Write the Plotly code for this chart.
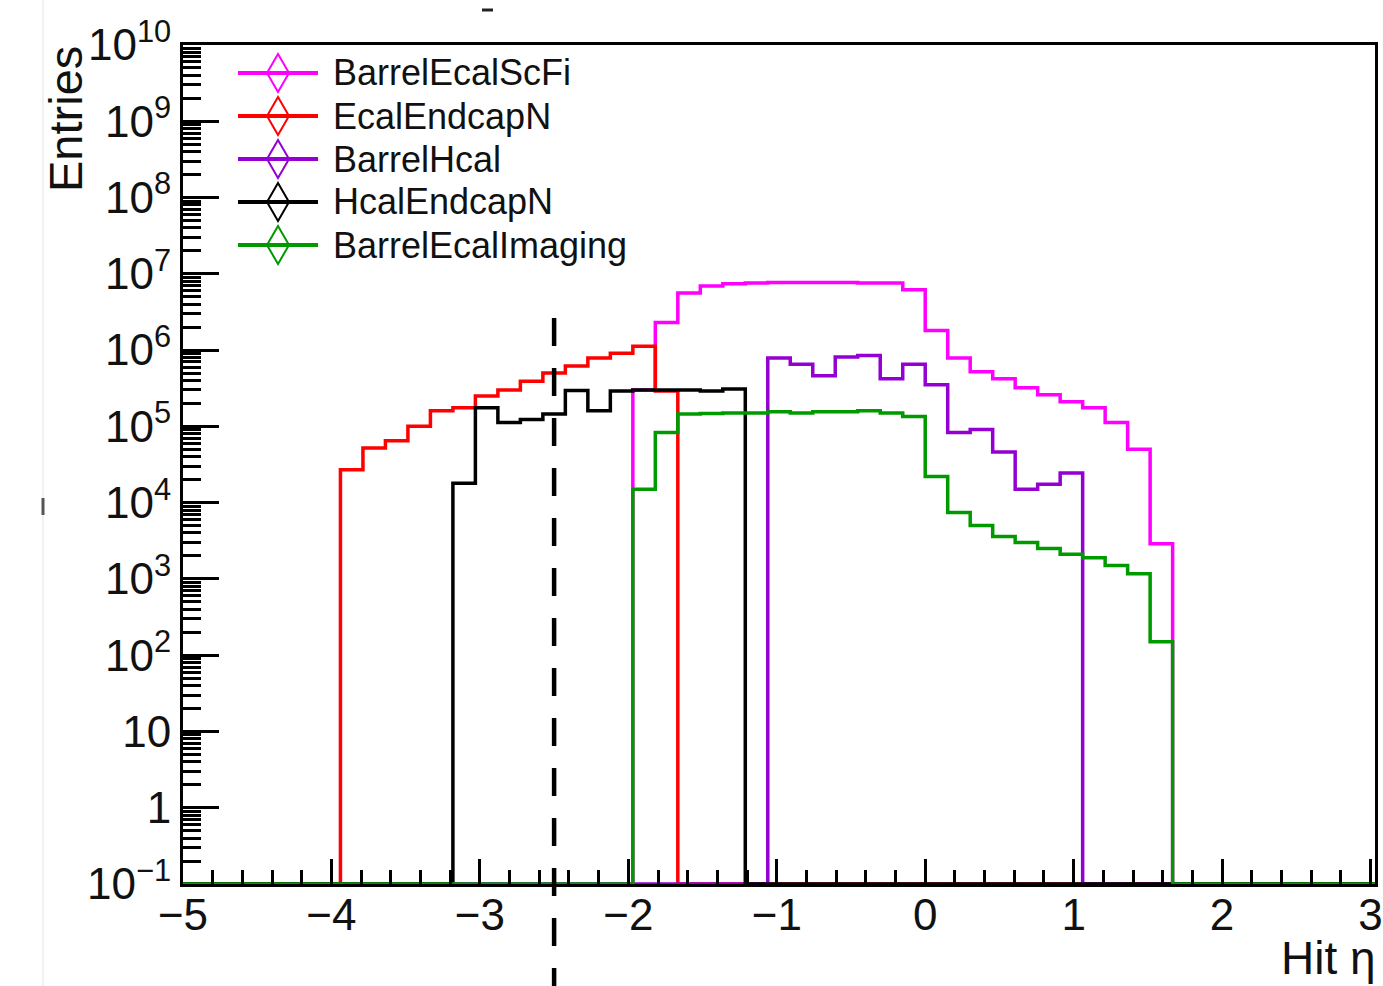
import numpy as np
import plotly.graph_objects as go

# ---------------- data ----------------
HIST_LO, HIST_HI, N_BINS = -5.0, 5.0, 66      # histogram binning in eta
X_MIN, X_MAX = -5.0, 3.03                     # displayed eta range (frame slightly past 3)
Y_LOG_MIN, Y_LOG_MAX = -1, 10                 # displayed decades
Y_FLOOR = 0.1                                 # empty bins drawn at frame bottom
ETA_CUT = -2.5                                # dashed reference line
ETA_CUT_TOP = 10 ** 6.42

series_names = ["BarrelEcalScFi", "EcalEndcapN", "BarrelHcal", "HcalEndcapN", "BarrelEcalImaging"]
series_colors = ["#ff00ff", "#ff0000", "#9400d3", "#000000", "#009a00"]

scfi_first_bin = 20
scfi_counts = [3.0e5, 2.3e6, 5.6e6, 6.9e6, 7.4e6, 7.6e6, 7.7e6, 7.7e6, 7.7e6, 7.7e6,
               7.6e6, 7.6e6, 6.2e6, 1.8e6, 7.9e5, 5.2e5, 4.2e5, 3.2e5, 2.6e5, 2.1e5,
               1.76e5, 1.12e5, 5.0e4, 2.9e3]

ecaln_first_bin = 7
ecaln_counts = [2.7e4, 5.2e4, 6.5e4, 1.0e5, 1.6e5, 1.76e5, 2.5e5, 3.0e5, 3.9e5, 5.0e5,
                6.2e5, 7.9e5, 9.1e5, 1.12e6, 2.9e5]

hcalb_first_bin = 26
hcalb_counts = [7.9e5, 6.5e5, 4.6e5, 8.1e5, 8.5e5, 4.2e5, 6.5e5, 3.5e5, 8.3e4, 9.1e4,
                4.6e4, 1.5e4, 1.74e4, 2.45e4]

hcaln_first_bin = 12
hcaln_counts = [1.8e4, 1.76e5, 1.12e5, 1.23e5, 1.45e5, 2.95e5, 1.6e5, 2.9e5, 3.0e5, 3.0e5,
                3.0e5, 2.9e5, 3.1e5]

imag_first_bin = 20
imag_counts = [1.5e4, 8.3e4, 1.45e5, 1.48e5, 1.5e5, 1.5e5, 1.55e5, 1.5e5, 1.55e5, 1.55e5,
               1.6e5, 1.5e5, 1.35e5, 2.2e4, 7.4e3, 5.0e3, 3.6e3, 3.0e3, 2.5e3, 2.1e3,
               1.9e3, 1.5e3, 1.17e3, 1.5e2]

series_first = [scfi_first_bin, ecaln_first_bin, hcalb_first_bin, hcaln_first_bin, imag_first_bin]
series_counts = [scfi_counts, ecaln_counts, hcalb_counts, hcaln_counts, imag_counts]

x_tick_vals = [-5, -4, -3, -2, -1, 0, 1, 2, 3]
x_tick_text = ["\u22125", "\u22124", "\u22123", "\u22122", "\u22121", "0", "1", "2", "3"]
y_tick_vals = [10.0 ** k for k in range(Y_LOG_MIN, Y_LOG_MAX + 1)]
y_tick_text = ["10<sup>\u22121</sup>", "1", "10"] + ["10<sup>%d</sup>" % k for k in range(2, 11)]

# ---------------- geometry (layout only) ----------------
W, H = 1383, 986
ML, MR, MT, MB = 183, 8, 45, 102
PW, PH = W - ML - MR, H - MT - MB


def px_x(p):
    return (p - ML) / PW


def px_y(p):
    return (H - MB - p) / PH


FONT = "Liberation Sans, Arial, Helvetica, sans-serif"

fig = go.Figure()

edges = np.linspace(HIST_LO, HIST_HI, N_BINS + 1)
for name, color, first, counts in zip(series_names, series_colors, series_first, series_counts):
    full = np.zeros(N_BINS)
    full[first:first + len(counts)] = counts
    yv = np.where(full > 0, full, Y_FLOOR)
    fig.add_trace(go.Scatter(
        x=edges, y=np.append(yv, yv[-1]), mode="lines", line_shape="hv",
        line=dict(color=color, width=3.5), name=name, showlegend=False,
        hoverinfo="skip"))

shapes = []
annotations = []

# dashed eta cut line (extends below the frame, as in the original)
cut_px = (ETA_CUT - X_MIN) / (X_MAX - X_MIN)
cut_top = (np.log10(ETA_CUT_TOP) - Y_LOG_MIN) / (Y_LOG_MAX - Y_LOG_MIN)
shapes.append(dict(type="line", xref="paper", yref="paper", x0=cut_px, x1=cut_px,
                   y0=cut_top, y1=px_y(H + 10),
                   line=dict(color="black", width=4.5, dash="28px,22px"), layer="above"))

# custom legend
row_y = [73, 116, 159, 202, 245]
for name, color, ry in zip(series_names, series_colors, row_y):
    shapes.append(dict(type="line", xref="paper", yref="paper",
                       x0=px_x(238), x1=px_x(318), y0=px_y(ry), y1=px_y(ry),
                       line=dict(color=color, width=4)))
    shapes.append(dict(type="path", xref="paper", yref="paper",
                       xsizemode="pixel", ysizemode="pixel",
                       xanchor=px_x(278), yanchor=px_y(ry),
                       path="M0,19L11,0L0,-19L-11,0Z",
                       line=dict(color=color, width=2)))
    annotations.append(dict(text=name, xref="paper", yref="paper", x=px_x(331), y=px_y(ry),
                            xanchor="left", yanchor="middle", showarrow=False,
                            font=dict(family=FONT, size=36, color="#111111")))

# axis titles
annotations.append(dict(text="Entries", xref="paper", yref="paper", x=px_x(66), y=px_y(44),
                        xanchor="center", yanchor="top", textangle=-90, showarrow=False,
                        font=dict(family=FONT, size=47, color="#111111")))
annotations.append(dict(text="Hit \u03b7", xref="paper", yref="paper", x=px_x(1378), y=px_y(958),
                        xanchor="right", yanchor="middle", showarrow=False,
                        font=dict(family=FONT, size=46, color="#111111")))

# faint scan artefacts of the original picture
shapes.append(dict(type="line", xref="paper", yref="paper", x0=px_x(43), x1=px_x(43),
                   y0=px_y(0), y1=px_y(H), line=dict(color="#ececec", width=1.5), layer="below"))
shapes.append(dict(type="line", xref="paper", yref="paper", x0=px_x(43), x1=px_x(43),
                   y0=px_y(498), y1=px_y(515), line=dict(color="#555555", width=3)))
shapes.append(dict(type="line", xref="paper", yref="paper", x0=px_x(482), x1=px_x(493),
                   y0=px_y(10), y1=px_y(10), line=dict(color="#222222", width=3)))

x_minor = [round(v, 2) for v in np.arange(-5.0, 3.0 + 1e-9, 0.2) if abs(v - round(v)) > 1e-6]
y_minor = [m * 10.0 ** k for k in range(Y_LOG_MIN, Y_LOG_MAX) for m in range(2, 10)]

fig.update_layout(
    width=W, height=H, margin=dict(l=ML, r=MR, t=MT, b=MB, autoexpand=False),
    paper_bgcolor="white", plot_bgcolor="white",
    font=dict(family=FONT, size=44, color="#111111"),
    shapes=shapes, annotations=annotations, showlegend=False,
    xaxis=dict(range=[X_MIN, X_MAX], showgrid=False, zeroline=False, automargin=False,
               showline=True, linecolor="black", linewidth=3, mirror=True,
               ticks="inside", ticklen=25, tickwidth=2.5, tickcolor="black",
               tickmode="array", tickvals=x_tick_vals, ticktext=x_tick_text,
               ticklabelstandoff=-10, ticklabeloverflow="allow",
               tickfont=dict(family=FONT, size=44, color="#111111"),
               minor=dict(tickmode="array", tickvals=x_minor, ticks="inside",
                          ticklen=14, tickwidth=2.5, tickcolor="black")),
    yaxis=dict(type="log", range=[Y_LOG_MIN, Y_LOG_MAX], showgrid=False, zeroline=False,
               automargin=False,
               showline=True, linecolor="black", linewidth=3, mirror=True,
               ticks="inside", ticklen=36, tickwidth=3, tickcolor="black",
               tickmode="array", tickvals=y_tick_vals, ticktext=y_tick_text,
               ticklabelstandoff=0, ticklabeloverflow="allow",
               tickfont=dict(family=FONT, size=44, color="#111111"),
               minor=dict(tickmode="array", tickvals=y_minor, ticks="inside",
                          ticklen=18, tickwidth=2.5, tickcolor="black")),
)

fig.write_html("out.html")
